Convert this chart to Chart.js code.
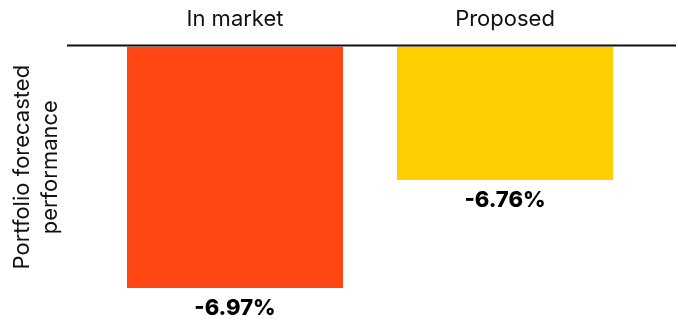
<!DOCTYPE html>
<html>
<head>
<meta charset="utf-8">
<script src="https://cdn.jsdelivr.net/npm/chart.js@4/dist/chart.umd.min.js"></script>
<style>
  html, body { margin: 0; padding: 0; background: #fff; }
  #wrap { width: 678px; height: 320px; position: relative; }
</style>
</head>
<body>
<div id="wrap"><canvas id="c" width="678" height="320"></canvas></div>
<script>
// ---- data ----
const categories = ['In market', 'Proposed'];
const performance = [-6.97, -6.76];
const barColors = ['#FF4713', '#FFCE00'];
const axisMax = -6.5;   // top of value axis (bars hang from here)
const axisMin = -6.97;  // bottom of value axis
const yTitle = ['Portfolio forecasted', 'performance'];

const FONT = 'Inter, "Noto Sans", sans-serif';

const topLine = {
  id: 'topLine',
  afterDatasetsDraw(chart) {
    const {ctx, chartArea} = chart;
    ctx.save();
    ctx.strokeStyle = '#111';
    ctx.lineWidth = 2;
    ctx.beginPath();
    ctx.moveTo(chartArea.left - 33, chartArea.top - 1);
    ctx.lineTo(chartArea.right + 36, chartArea.top - 1);
    ctx.stroke();
    ctx.restore();
  }
};

const valueLabels = {
  id: 'valueLabels',
  afterDatasetsDraw(chart) {
    const {ctx} = chart;
    const meta = chart.getDatasetMeta(0);
    ctx.save();
    ctx.font = '800 22px ' + FONT;
    ctx.fillStyle = '#000';
    ctx.textAlign = 'center';
    ctx.textBaseline = 'middle';
    meta.data.forEach((bar, i) => {
      ctx.fillText(performance[i].toFixed(2) + '%', bar.x, bar.y + 20);
    });
    ctx.restore();
  }
};

new Chart(document.getElementById('c'), {
  type: 'bar',
  data: {
    labels: categories,
    datasets: [{
      data: performance,
      backgroundColor: barColors,
      base: axisMax,
      borderWidth: 0,
      categoryPercentage: 1,
      barPercentage: 0.8
    }]
  },
  options: {
    responsive: false,
    animation: false,
    layout: { padding: { left: 0, right: 38, top: -8, bottom: 32 } },
    plugins: { legend: { display: false }, tooltip: { enabled: false } },
    scales: {
      x: {
        position: 'top',
        grid: { display: false, drawTicks: false },
        border: { display: false },
        ticks: { color: '#111', font: { family: FONT, size: 22 }, padding: 14, minRotation: 0, maxRotation: 0 }
      },
      y: {
        min: axisMin,
        max: axisMax,
        grid: { display: false, drawTicks: false },
        border: { display: false },
        ticks: { display: false },
        title: {
          display: true,
          text: yTitle,
          color: '#111',
          font: { family: FONT, size: 22, lineHeight: 28 / 22 },
          padding: { top: 8, bottom: 36 }
        }
      }
    }
  },
  plugins: [topLine, valueLabels]
});
</script>
</body>
</html>
